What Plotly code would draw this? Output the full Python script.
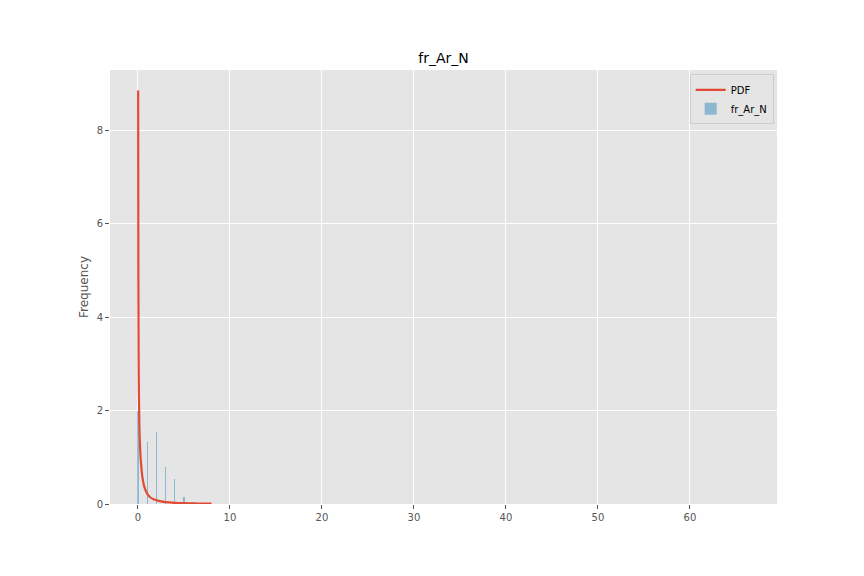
import plotly.graph_objects as go

# Histogram (density) bars
bar_x = [0, 1, 2, 3, 4, 5, 6]
bar_h = [2.0, 1.32, 1.55, 0.79, 0.53, 0.16, 0.05]

# PDF curve points
pdf_x = [0.02, 0.04, 0.07, 0.1, 0.15, 0.2, 0.3, 0.4, 0.5, 0.7, 1.0, 1.3, 1.6,
         2.0, 2.5, 3.0, 4.0, 5.0, 6.0, 7.0, 8.0]
pdf_y = [8.85, 5.0, 3.2, 2.4, 1.7, 1.35, 0.95, 0.72, 0.55, 0.36, 0.22, 0.15, 0.11,
         0.08, 0.055, 0.04, 0.025, 0.017, 0.012, 0.009, 0.007]

title = "fr_Ar_N"
x_ticks = [0, 10, 20, 30, 40, 50, 60]
y_ticks = [0, 2, 4, 6, 8]

fig = go.Figure()
fig.add_trace(go.Bar(
    x=bar_x, y=bar_h, name="fr_Ar_N",
    width=[0.13, 0.13, 0.13, 0.13, 0.13, 0.22, 0.13],
    marker=dict(color="rgba(52,138,189,0.5)", line=dict(width=0)),
    legendrank=2,
))
fig.add_trace(go.Scatter(
    x=pdf_x, y=pdf_y, name="PDF", mode="lines",
    line=dict(color="#E24A33", width=2.2, shape="spline"),
    legendrank=1,
))

fig.update_layout(
    width=864, height=576,
    margin=dict(l=102, r=95, t=62, b=80),
    paper_bgcolor="white",
    plot_bgcolor="#E5E5E5",
    font=dict(family="DejaVu Sans", color="#555555", size=10),
    title=dict(text=title, x=0.5, xref="paper", y=(576 - 50) / 576,
               yref="container", yanchor="middle", xanchor="center",
               font=dict(size=14, color="black")),
    showlegend=True,
    legend=dict(x=0.995, y=0.99, xanchor="right", yanchor="top",
                bgcolor="#E5E5E5", bordercolor="#CCCCCC", borderwidth=1,
                font=dict(size=10, color="black")),
    bargap=0,
)
fig.update_xaxes(
    range=[-3.04, 69.46], tickvals=x_ticks, showgrid=True, gridcolor="white",
    gridwidth=1, zeroline=False, ticks="outside", ticklen=4, tickcolor="#555555",
    showline=False,
)
fig.update_yaxes(
    range=[0, 9.29], tickvals=y_ticks, showgrid=True, gridcolor="white",
    gridwidth=1, zeroline=False, ticks="outside", ticklen=4, tickcolor="#555555",
    showline=False,
    title=dict(text="Frequency", font=dict(size=12, color="#555555"), standoff=5),
)

fig.write_html("out.html")
